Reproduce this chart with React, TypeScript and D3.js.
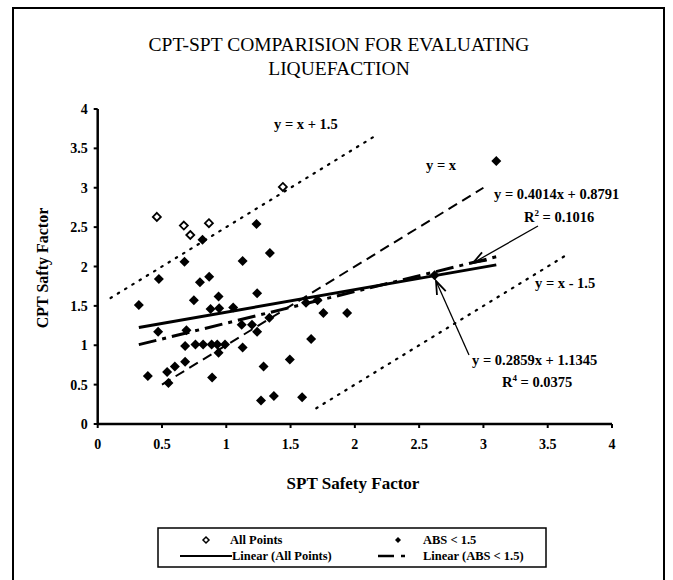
import React from 'react';
import * as d3 from 'd3';

// open diamonds: "All Points" outside the +/-1.5 band
const openX = [0.46, 0.67, 0.865, 0.72, 1.44];
const openY = [2.63, 2.52, 2.55, 2.40, 3.01];

// filled diamonds: ABS < 1.5
const fillX = [0.32, 0.39, 0.47, 0.476, 0.54, 0.55, 0.60, 0.675, 0.68, 0.68, 0.69, 0.748, 0.76, 0.795, 0.815,
  0.82, 0.867, 0.878, 0.886, 0.89, 0.93, 0.94, 0.945, 0.94, 0.99, 1.054, 1.127, 1.127, 1.12, 1.20, 1.235,
  1.24, 1.24, 1.27, 1.29, 1.335, 1.339, 1.37, 1.494, 1.59, 1.62, 1.71, 1.66, 1.755, 1.94, 2.62, 3.10];
const fillY = [1.51, 0.61, 1.17, 1.84, 0.66, 0.52, 0.73, 2.06, 0.79, 0.99, 1.19, 1.57, 1.01, 1.80, 2.34,
  1.01, 1.87, 1.46, 1.01, 0.59, 1.01, 1.62, 1.47, 0.905, 1.01, 1.48, 2.07, 0.97, 1.26, 1.26, 2.54,
  1.66, 1.17, 0.30, 0.73, 1.35, 2.17, 0.355, 0.82, 0.34, 1.54, 1.57, 1.08, 1.41, 1.41, 1.89, 3.34];

// reference lines [slope, intercept, xStart, xEnd]
const linePlus = [1, 1.5, 0.1, 2.17];
const lineEq = [1, 0, 0.5, 3.0];
const lineMinus = [1, -1.5, 1.7, 3.66];
const trendAll = [0.2859, 1.1345, 0.32, 3.1];
const trendAbs = [0.4014, 0.8791, 0.32, 3.1];

const ticks = [0, 0.5, 1, 1.5, 2, 2.5, 3, 3.5, 4];

const x = d3.scaleLinear().domain([0, 4]).range([97.7, 612]);
const y = d3.scaleLinear().domain([0, 4]).range([424, 109]);

const lineGen = d3.line<[number, number]>().x(d => x(d[0])).y(d => y(d[1]));

function seg(l: number[]) {
  return lineGen([[l[2], l[0] * l[2] + l[1]], [l[3], l[0] * l[3] + l[1]]]) || '';
}

function diamond(cx: number, cy: number, r: number) {
  return `M${cx},${cy - r}L${cx + r},${cy}L${cx},${cy + r}L${cx - r},${cy}Z`;
}

function Arrow({ x1, y1, x2, y2 }: { x1: number; y1: number; x2: number; y2: number }) {
  const a = Math.atan2(y2 - y1, x2 - x1);
  const L = 14, w = 0.35;
  const p1 = [x2 - L * Math.cos(a - w), y2 - L * Math.sin(a - w)];
  const p2 = [x2 - L * Math.cos(a + w), y2 - L * Math.sin(a + w)];
  return (
    <g stroke="#000" strokeWidth={1.3} fill="none">
      <line x1={x1} y1={y1} x2={x2} y2={y2} />
      <path d={`M${p1[0]},${p1[1]}L${x2},${y2}L${p2[0]},${p2[1]}`} strokeWidth={1.8} />
    </g>
  );
}

export default function App() {
  const font = '"Liberation Serif", "Times New Roman", serif';
  return (
    <svg width={673} height={580} style={{ position: 'absolute', left: 0, top: 0, background: '#fff' }} fontFamily={font}>
      <rect x={0} y={0} width={673} height={580} fill="#fff" />
      <rect x={13} y={8} width={651} height={590} fill="none" stroke="#000" strokeWidth={2} />

      <text x={339} y={51} textAnchor="middle" fontSize={19.5}>CPT-SPT COMPARISION FOR EVALUATING</text>
      <text x={339} y={75} textAnchor="middle" fontSize={19.5}>LIQUEFACTION</text>

      {/* reference lines */}
      <path d={seg(linePlus)} stroke="#000" strokeWidth={2.2} strokeDasharray="1.5,7" strokeLinecap="round" fill="none" />
      <path d={seg(lineMinus)} stroke="#000" strokeWidth={2.2} strokeDasharray="1.5,7" strokeLinecap="round" fill="none" />
      <path d={seg(lineEq)} stroke="#000" strokeWidth={2} strokeDasharray="10,6" fill="none" />

      {/* points */}
      {fillX.map((v, i) => (
        <path key={'f' + i} d={diamond(x(v), y(fillY[i]), 5)} fill="#000" />
      ))}
      {openX.map((v, i) => (
        <path key={'o' + i} d={diamond(x(v), y(openY[i]), 4)} fill="#fff" stroke="#000" strokeWidth={1.8} />
      ))}

      {/* trend lines */}
      <path d={seg(trendAbs)} stroke="#000" strokeWidth={3} strokeDasharray="18,6,4,6" fill="none" />
      <path d={seg(trendAll)} stroke="#000" strokeWidth={3} fill="none" />

      {/* axes */}
      <line x1={x(0)} y1={y(0)} x2={x(4)} y2={y(0)} stroke="#000" strokeWidth={2.5} />
      <line x1={x(0)} y1={y(0)} x2={x(0)} y2={y(4)} stroke="#000" strokeWidth={2.5} />
      {ticks.map(t => (
        <g key={'x' + t}>
          <line x1={x(t)} x2={x(t)} y1={y(0)} y2={y(0) + 4} stroke="#000" strokeWidth={2} />
          <text x={x(t)} y={y(0) + 25} textAnchor="middle" fontSize={14} fontWeight="bold">{String(t)}</text>
        </g>
      ))}
      {ticks.map(t => (
        <g key={'y' + t}>
          <line x1={x(0) - 4} x2={x(0)} y1={y(t)} y2={y(t)} stroke="#000" strokeWidth={2} />
          <text x={x(0) - 10} y={y(t) + 5} textAnchor="end" fontSize={14} fontWeight="bold">{String(t)}</text>
        </g>
      ))}

      <text x={353} y={489} textAnchor="middle" fontSize={17} fontWeight="bold">SPT Safety Factor</text>
      <text transform="translate(48,268) rotate(-90)" textAnchor="middle" fontSize={16} fontWeight="bold">CPT Safty Factor</text>

      {/* annotations */}
      <g fontSize={14.5} fontWeight="bold">
        <text x={274} y={129}>y = x + 1.5</text>
        <text x={426} y={170}>y = x</text>
        <text x={494} y={199}>y = 0.4014x + 0.8791</text>
        <text x={524} y={222}>R<tspan fontSize={9} dy={-6}>2</tspan><tspan dy={6}> = 0.1016</tspan></text>
        <text x={535} y={288}>y = x - 1.5</text>
        <text x={472} y={365}>y = 0.2859x + 1.1345</text>
        <text x={502} y={387}>R<tspan fontSize={9} dy={-6}>4</tspan><tspan dy={6}> = 0.0375</tspan></text>
      </g>
      <Arrow x1={538} y1={226} x2={473} y2={263} />
      <Arrow x1={469} y1={355} x2={436} y2={281} />

      {/* legend */}
      <rect x={158} y={528} width={388} height={39} fill="#fff" stroke="#000" strokeWidth={1.5} />
      <g fontSize={12.5} fontWeight="bold">
        <path d={diamond(206, 540, 3)} fill="#fff" stroke="#000" strokeWidth={1.5} />
        <text x={230} y={544}>All  Points</text>
        <path d={diamond(398, 540, 3)} fill="#000" />
        <text x={423} y={544}>ABS &lt; 1.5</text>
        <line x1={180} x2={232} y1={556} y2={556} stroke="#000" strokeWidth={2} />
        <text x={232} y={560}>Linear (All Points)</text>
        <line x1={378} x2={394} y1={556} y2={556} stroke="#000" strokeWidth={2.5} />
        <line x1={401} x2={405} y1={556} y2={556} stroke="#000" strokeWidth={2.5} />
        <text x={423} y={560}>Linear (ABS &lt; 1.5)</text>
      </g>
    </svg>
  );
}
